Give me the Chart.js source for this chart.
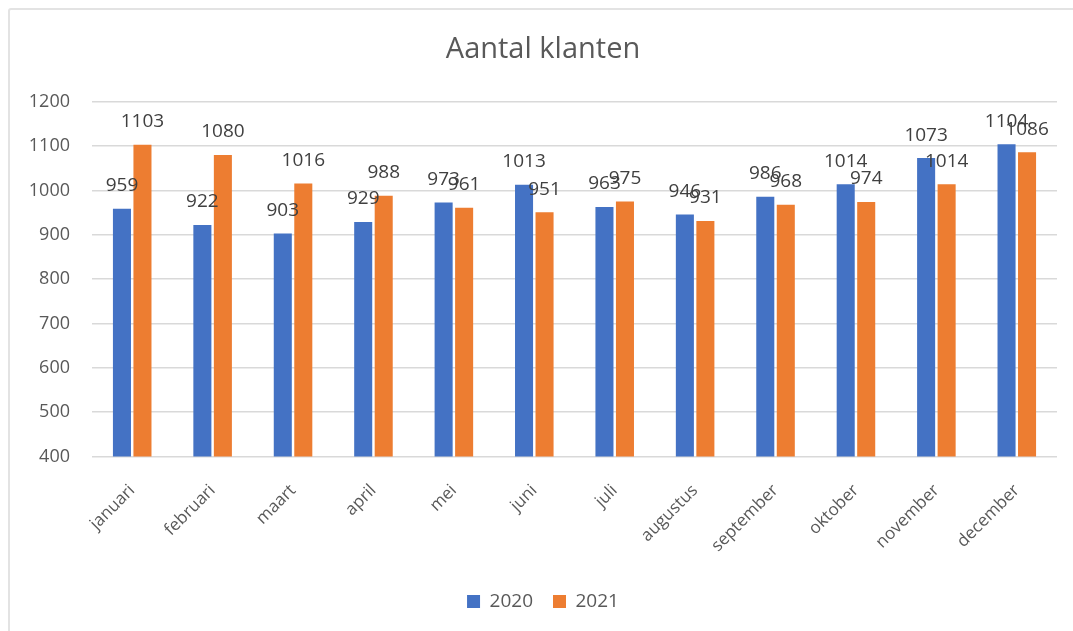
<!DOCTYPE html>
<html lang="nl">
<head>
<meta charset="UTF-8">
<title>Aantal klanten</title>
<script src="https://cdn.jsdelivr.net/npm/chart.js"></script>
<style>
    html, body { margin: 0; padding: 0; background: #fff; overflow: hidden; }
    .wrap { position: relative; width: 1073px; height: 631px; }
    .frame {
        position: absolute; left: 8px; top: 8px; width: 1100px; height: 700px;
        border: 2px solid #e3e3e3; border-radius: 3px;
    }
    canvas { position: absolute; left: 0; top: 0; }
</style>
</head>
<body>
<div class="wrap">
    <div class="frame"></div>
    <canvas id="chart" width="1073" height="631"></canvas>
</div>
<script>
// gegevens
const maanden = ['januari', 'februari', 'maart', 'april', 'mei', 'juni',
                 'juli', 'augustus', 'september', 'oktober', 'november', 'december'];
const klanten2020 = [959, 922, 903, 929, 973, 1013, 963, 946, 986, 1014, 1073, 1104];
const klanten2021 = [1103, 1080, 1016, 988, 961, 951, 975, 931, 968, 974, 1014, 1086];
const yTicks = [400, 500, 600, 700, 800, 900, 1000, 1100, 1200];

const FONT = "'Open Sans', 'Liberation Sans', sans-serif";

// waardelabels boven de staven
const waardeLabels = {
    id: 'waardeLabels',
    afterDatasetsDraw(chart) {
        const ctx = chart.ctx;
        ctx.save();
        ctx.font = '19px ' + FONT;
        ctx.fillStyle = '#404040';
        ctx.textAlign = 'center';
        ctx.textBaseline = 'middle';
        chart.data.datasets.forEach((ds, i) => {
            chart.getDatasetMeta(i).data.forEach((bar, j) => {
                ctx.fillText(ds.data[j], bar.x, bar.y - 23);
            });
        });
        ctx.restore();
    }
};

new Chart(document.getElementById('chart'), {
    type: 'bar',
    data: {
        labels: maanden,
        datasets: [
            { label: '2020', data: klanten2020, backgroundColor: '#4472C4',
              barPercentage: 0.88, categoryPercentage: 0.51 },
            { label: '2021', data: klanten2021, backgroundColor: '#ED7D31',
              barPercentage: 0.88, categoryPercentage: 0.51 }
        ]
    },
    options: {
        responsive: false,
        animation: false,
        layout: { padding: { left: 29, right: 16, top: 0, bottom: 10 } },
        scales: {
            x: {
                grid: { display: false },
                border: { display: false },
                ticks: {
                    color: '#595959', font: { family: FONT, size: 17 },
                    minRotation: 45, maxRotation: 45, padding: 16
                },
                afterFit: s => { s.paddingLeft = 0; s.paddingRight = 0; }
            },
            y: {
                min: 400, max: 1200,
                afterBuildTicks: axis => { axis.ticks = yTicks.map(v => ({ value: v })); },
                afterFit: s => { s.width = 63; },
                grid: { color: '#d9d9d9', lineWidth: 1.5, drawTicks: false },
                border: { display: false },
                ticks: {
                    color: '#595959', font: { family: FONT, size: 18 }, padding: 22,
                    callback: v => String(v)
                }
            }
        },
        plugins: {
            title: {
                display: true, text: 'Aantal klanten', color: '#595959',
                font: { family: FONT, size: 29, weight: 'normal' },
                padding: { top: 32, bottom: 35 }
            },
            legend: {
                position: 'bottom',
                labels: {
                    color: '#595959', font: { family: FONT, size: 19 },
                    boxWidth: 13, boxHeight: 13, padding: 20
                }
            },
            tooltip: { enabled: false }
        }
    },
    plugins: [waardeLabels]
});
</script>
</body>
</html>
